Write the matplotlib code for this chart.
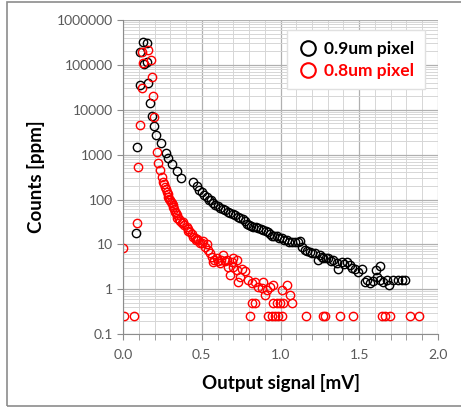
import numpy as np
import matplotlib
matplotlib.use("Agg")
import matplotlib.pyplot as plt
from matplotlib.patches import Rectangle
from matplotlib.ticker import FixedLocator, NullFormatter, LogLocator

plt.rcParams['font.family'] = ['Lato', 'DejaVu Sans']

# 0.9um pixel (black)
x_09 = [0.083, 0.087, 0.108, 0.108, 0.129, 0.135, 0.150, 0.150, 0.161, 0.171,
        0.182, 0.197, 0.210, 0.239, 0.271, 0.288, 0.309, 0.341, 0.365, 0.443,
        0.468, 0.485, 0.500, 0.515, 0.531, 0.545, 0.557, 0.570, 0.584, 0.600,
        0.616, 0.632, 0.648, 0.665, 0.679, 0.695, 0.711, 0.727, 0.743, 0.760,
        0.775, 0.790, 0.800, 0.815, 0.827, 0.843, 0.859, 0.875, 0.891, 0.905,
        0.922, 0.935, 0.944, 0.960, 0.976, 0.990, 1.008, 1.020, 1.040, 1.055,
        1.071, 1.092, 1.113, 1.124, 1.135, 1.156, 1.170, 1.187, 1.203, 1.219,
        1.240, 1.251, 1.262, 1.272, 1.290, 1.303, 1.320, 1.335, 1.357, 1.367,
        1.389, 1.405, 1.420, 1.441, 1.457, 1.473, 1.494, 1.516, 1.537, 1.550,
        1.568, 1.585, 1.604, 1.611, 1.632, 1.632, 1.653, 1.674, 1.691, 1.716,
        1.748, 1.770, 1.790]
y_09 = [18, 1500, 190000, 35000, 330000, 105000, 300000, 115000, 40000, 14500,
        7200, 4400, 2700, 1800, 1100, 850, 620, 440, 300, 250,
        200, 165, 145, 125, 112, 100, 96, 85, 76, 70,
        64, 60, 57, 52, 50, 47, 45, 41, 38, 36,
        34, 29, 27, 26, 25, 24, 23, 22, 21, 20,
        19, 17, 15, 15.5, 15, 14, 13.6, 12.5, 12.5, 11.5,
        11.4, 11.4, 11.4, 12, 8.9, 7.4, 7.2, 6.8, 6.5, 6.3,
        4.5, 5.8, 5.2, 4.9, 5.0, 4.9, 4.3, 4.5, 3.8, 2.9,
        4.1, 3.6, 4.1, 3.4, 3.0, 2.9, 2.4, 2.9, 1.47, 1.6,
        1.35, 1.5, 2.7, 1.9, 3.3, 1.6, 1.47, 1.6, 1.23, 1.6,
        1.6, 1.65, 1.65]

# 0.8um pixel (red)
x_08 = [0.000, 0.006, 0.070, 0.087, 0.097, 0.108, 0.119, 0.119, 0.125, 0.161,
        0.178, 0.182, 0.188, 0.197, 0.214, 0.224, 0.235, 0.246, 0.252, 0.260,
        0.267, 0.272, 0.277, 0.283, 0.288, 0.293, 0.298, 0.304, 0.309, 0.314,
        0.319, 0.325, 0.330, 0.336, 0.341, 0.345, 0.352, 0.360, 0.373, 0.380,
        0.390, 0.404, 0.410, 0.415, 0.425, 0.435, 0.446, 0.455, 0.460, 0.470,
        0.478, 0.488, 0.500, 0.510, 0.521, 0.530, 0.542, 0.550, 0.563, 0.573,
        0.580, 0.595, 0.605, 0.616, 0.625, 0.637, 0.645, 0.658, 0.669, 0.679,
        0.690, 0.700, 0.700, 0.722, 0.722, 0.732, 0.743, 0.754, 0.775, 0.796,
        0.806, 0.817, 0.817, 0.838, 0.838, 0.859, 0.881, 0.891, 0.902, 0.912,
        0.923, 0.933, 0.944, 0.954, 0.954, 0.965, 0.976, 0.986, 0.997, 1.008,
        1.008, 1.018, 1.039, 1.060, 1.071, 1.162, 1.272, 1.283, 1.378, 1.462,
        1.643, 1.663, 1.695, 1.822, 1.881]
y_08 = [8.5, 0.25, 0.25, 30, 540, 4600, 30000, 195000, 108000, 215000,
        130000, 55000, 20000, 6900, 1150, 640, 460, 325, 250, 220,
        192, 170, 148, 130, 114, 105, 97, 90, 82, 75,
        67, 60, 53, 49, 45, 38, 36, 33, 29.5, 31,
        27, 24.7, 22, 20, 19, 17, 14.7, 14, 12.5, 13,
        12.6, 11, 10.6, 12, 8.9, 10, 7.5, 6.5, 5.3, 4.1,
        4.5, 4.9, 4.2, 3.8, 4.5, 5.8, 4.3, 4.5, 3.2, 2.1,
        4.1, 4.9, 3.2, 4.5, 2.7, 1.47, 1.9, 2.9, 2.5, 1.6,
        0.25, 1.35, 0.5, 1.47, 0.5, 1.14, 1.05, 1.47, 0.74, 0.96,
        0.25, 1.14, 0.25, 1.24, 0.5, 0.25, 0.5, 0.25, 0.5, 0.96,
        0.25, 0.5, 1.24, 0.74, 0.5, 0.25, 0.25, 0.25, 0.25, 0.25,
        0.25, 0.25, 0.25, 0.25, 0.25]

x_ticks = [0.0, 0.5, 1.0, 1.5, 2.0]
y_ticks = [0.1, 1, 10, 100, 1000, 10000, 100000, 1000000]
y_labels = ["0.1", "1", "10", "100", "1000", "10000", "100000", "1000000"]

fig = plt.figure(figsize=(4.61, 4.08), dpi=100)
ax = fig.add_axes([0.267, 0.181, 0.683, 0.770])

ax.plot(x_09, y_09, 'o', mfc='none', mec='black', ms=6, mew=1.0, label='0.9um pixel')
ax.plot(x_08, y_08, 'o', mfc='none', mec='#ff0000', ms=6, mew=1.0, label='0.8um pixel')

ax.set_yscale('log')
ax.set_xlim(0, 2.0)
ax.set_ylim(0.1, 1000000)

ax.set_xticks(x_ticks)
ax.set_xticklabels([f"{v:.1f}" for v in x_ticks])
ax.xaxis.set_minor_locator(FixedLocator(np.arange(0, 2.01, 0.1)))
ax.set_yticks(y_ticks)
ax.set_yticklabels(y_labels)
ax.yaxis.set_minor_locator(LogLocator(base=10, subs=np.arange(2, 10), numticks=20))
ax.yaxis.set_minor_formatter(NullFormatter())

ax.grid(which='major', color='#b0b0b0', lw=0.9)
ax.grid(which='minor', color='#d6d6d6', lw=0.7)
ax.set_axisbelow(True)

for s in ['top', 'right']:
    ax.spines[s].set_visible(False)
for s in ['left', 'bottom']:
    ax.spines[s].set_color('#8c8c8c')
ax.tick_params(axis='both', which='major', colors='#8c8c8c', labelcolor='#595959',
               labelsize=10, length=4, direction='out')
ax.tick_params(axis='x', which='minor', colors='#8c8c8c', length=4, direction='out')
ax.tick_params(axis='y', which='minor', length=0)
ax.tick_params(axis='x', pad=7)

ax.set_xlabel('Output signal [mV]', fontsize=13.5, fontweight='bold', labelpad=9)
ax.set_ylabel('Counts [ppm]', fontsize=13.5, fontweight='bold', labelpad=8)

leg = ax.legend(loc='upper right', bbox_to_anchor=(0.985, 0.995),
                prop={'weight': 'bold', 'size': 12.5}, handletextpad=0.35,
                handlelength=1.2, borderpad=0.6, labelspacing=0.35,
                fancybox=False, framealpha=1, edgecolor='#e0e0e0')
for h in leg.legend_handles:
    h.set_markersize(10.5)
    h.set_markeredgewidth(1.5)
leg.get_texts()[0].set_color('black')
leg.get_texts()[1].set_color('#ff0000')

fig.add_artist(Rectangle((7 / 461, 2 / 408), 1.0, 404 / 408, fill=False,
                         edgecolor='#8c8c8c', lw=1.2, transform=fig.transFigure))

fig.savefig('out.png', dpi=100)
